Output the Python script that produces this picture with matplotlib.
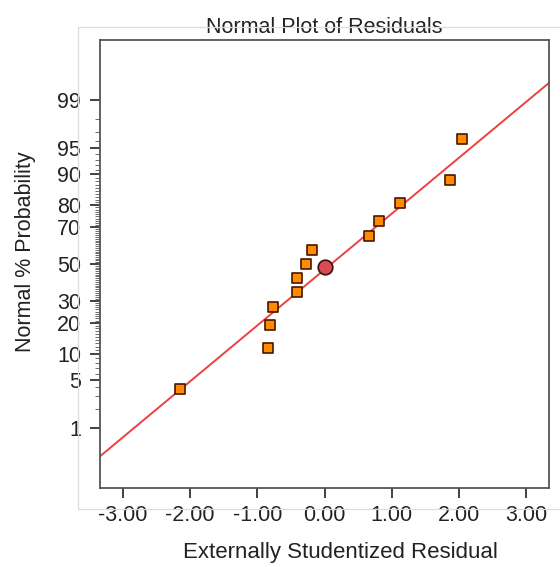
import numpy as np
import matplotlib
matplotlib.use("Agg")
import matplotlib.pyplot as plt
from matplotlib.patches import Rectangle
from statistics import NormalDist

plt.rcParams['font.family'] = ['Liberation Sans', 'DejaVu Sans']
plt.rcParams['axes.unicode_minus'] = False

# residuals (sorted) and their normal % probability
residuals = [-2.155, -0.842, -0.817, -0.773, -0.411, -0.411, -0.282,
             -0.183, 0.669, 0.817, 1.130, 1.862, 2.040]
probability = [3.85, 11.54, 19.23, 26.92, 34.62, 42.31, 50.0,
               57.69, 65.38, 73.08, 80.77, 88.46, 96.15]

# highlighted point
center_x = [0.0]
center_p = [48.5]

# reference line (normal with this mean / sd)
line_mu = 0.10
line_sd = 1.26

y_ticks = [1, 5, 10, 20, 30, 50, 70, 80, 90, 95, 99]
x_ticks = [-3, -2, -1, 0, 1, 2, 3]

nd = NormalDist()


def fwd(p):
    p = np.clip(np.asarray(p, dtype=float) / 100.0, 1e-9, 1 - 1e-9)
    return np.vectorize(nd.inv_cdf)(p) if p.ndim else nd.inv_cdf(float(p))


def inv(z):
    z = np.asarray(z, dtype=float)
    return np.vectorize(nd.cdf)(z) * 100.0 if z.ndim else nd.cdf(float(z)) * 100.0


W, H = 560, 567
fig = plt.figure(figsize=(W / 100, H / 100), dpi=100)

# faint outer panel frame
fig.patches.append(Rectangle((78 / W, 1 - 509 / H), 490 / W, 482 / H,
                             transform=fig.transFigure, fill=False,
                             edgecolor='#dddddd', lw=0.9, zorder=0))

ax = fig.add_axes([100 / W, 1 - 488 / H, 449 / W, 448 / H])
ax.set_yscale('function', functions=(fwd, inv))

xlim = (-3.34, 3.34)
ax.set_xlim(*xlim)
ax.set_ylim(inv(-3.18), inv(3.18))

# fitted line
lx = np.linspace(xlim[0], xlim[1], 50)
ly = [nd.cdf((v - line_mu) / line_sd) * 100 for v in lx]
ax.plot(lx, ly, color='#ee4040', lw=1.4, zorder=2)

ax.scatter(residuals, probability, marker='s', s=55, facecolor='#ff8c00',
           edgecolor='#4a1500', linewidth=1.2, zorder=3)
ax.scatter(center_x, center_p, marker='o', s=110, facecolor='#d94a52',
           edgecolor='#3a1010', linewidth=1.2, zorder=4)

ax.set_xticks(x_ticks)
ax.set_xticklabels([f'{v:.2f}' for v in x_ticks])
ax.set_yticks(y_ticks)
ax.set_yticklabels([str(v) for v in y_ticks])
ax.set_yticks(list(range(2, 99)), minor=True)
ax.set_xticks([], minor=True)

ax.tick_params(axis='both', which='major', direction='out', width=1.3,
               labelsize=15.5, color='#333333', labelcolor='#222222')
ax.tick_params(axis='y', which='major', length=7.5, pad=6)
ax.tick_params(axis='x', which='major', length=7, pad=5)
ax.tick_params(axis='y', which='minor', direction='out', length=3.5,
               width=0.6, color='#555555')

for s in ax.spines.values():
    s.set_color('#555555')
    s.set_linewidth(1.3)

ax.set_title('Normal Plot of Residuals', fontsize=15.5, color='#222222', pad=5)
ax.set_xlabel('Externally Studentized Residual', fontsize=16, color='#222222')
ax.set_ylabel('Normal % Probability', fontsize=15.5, color='#222222')
ax.xaxis.set_label_coords(0.536, -0.12)
ax.yaxis.set_label_coords(-0.142, 0.527)

fig.savefig('out.png', dpi=100, facecolor='white')
